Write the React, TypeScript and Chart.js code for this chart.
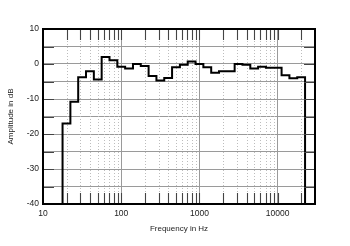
import React, { useEffect, useRef } from 'react';
import { Chart, registerables } from 'chart.js';

Chart.register(...registerables);

// 1/3-octave band edges (Hz), 20 Hz .. 20 kHz bands
const bandEdgesHz = [
  17.78, 22.39, 28.18, 35.48, 44.67, 56.23, 70.79, 89.13, 112.2, 141.3, 177.8,
  223.9, 281.8, 354.8, 446.7, 562.3, 707.9, 891.3, 1122, 1413, 1778, 2239, 2818,
  3548, 4467, 5623, 7079, 8913, 11220, 14125, 17783, 22387,
];
// band centres (for reference)
const bandCentersHz = [
  20, 25, 31.5, 40, 50, 63, 80, 100, 125, 160, 200, 250, 315, 400, 500, 630, 800,
  1000, 1250, 1600, 2000, 2500, 3150, 4000, 5000, 6300, 8000, 10000, 12500, 16000, 20000,
];
// level per band (dB)
const bandLevelsDb = [
  -17, -10.8, -3.8, -2.1, -4.4, 2.0, 1.1, -0.8, -1.3, 0, -0.6, -3.4, -4.7, -4.0,
  -0.9, -0.2, 0.7, 0, -0.9, -2.5, -2.1, -2.1, 0, -0.2, -1.3, -0.8, -1.1, -1.1,
  -3.2, -4.1, -3.8,
];
const floorDb = -40;

const xMin = 10;
const xMax = 30000;
const yMin = -40;
const yMax = 10;
const decadeTicks = [10, 100, 1000, 10000];
const minorMultipliers = [2, 3, 4, 5, 6, 7, 8, 9];
const yInnerTicks = [-35, -30, -25, -20, -15, -10, -5, 0, 5];

const FONT = 'Liberation Sans, Arial, Helvetica, sans-serif';

const framePlugin = {
  id: 'framePlugin',
  beforeDatasetsDraw(chart: any) {
    const { ctx, chartArea, scales } = chart;
    const xs = scales.x;
    ctx.save();
    ctx.strokeStyle = '#bdbdbd';
    ctx.lineWidth = 1;
    ctx.setLineDash([1, 2]);
    for (const d of decadeTicks) {
      for (const m of minorMultipliers) {
        const v = d * m;
        if (v >= xMax) continue;
        const px = Math.round(xs.getPixelForValue(v)) + 0.5;
        ctx.beginPath();
        ctx.moveTo(px, chartArea.top);
        ctx.lineTo(px, chartArea.bottom);
        ctx.stroke();
      }
    }
    ctx.restore();
  },
  afterDatasetsDraw(chart: any) {
    const { ctx, chartArea, scales } = chart;
    const xs = scales.x;
    const ys = scales.y;
    const len = 11;
    ctx.save();
    ctx.strokeStyle = '#444';
    ctx.lineWidth = 1.1;
    ctx.setLineDash([]);
    for (const d of decadeTicks) {
      for (const m of [1, ...minorMultipliers]) {
        const v = d * m;
        if (v <= xMin || v >= xMax) continue;
        const px = Math.round(xs.getPixelForValue(v)) + 0.5;
        ctx.beginPath();
        ctx.moveTo(px, chartArea.top);
        ctx.lineTo(px, chartArea.top + len);
        ctx.moveTo(px, chartArea.bottom);
        ctx.lineTo(px, chartArea.bottom - len);
        ctx.stroke();
      }
    }
    for (const v of yInnerTicks) {
      const py = Math.round(ys.getPixelForValue(v)) + 0.5;
      ctx.beginPath();
      ctx.moveTo(chartArea.left, py);
      ctx.lineTo(chartArea.left + len, py);
      ctx.moveTo(chartArea.right, py);
      ctx.lineTo(chartArea.right - len, py);
      ctx.stroke();
    }
    ctx.strokeStyle = '#000';
    ctx.lineWidth = 2;
    ctx.strokeRect(chartArea.left, chartArea.top, chartArea.right - chartArea.left, chartArea.bottom - chartArea.top);
    ctx.restore();
  },
};

export default function App() {
  const canvasRef = useRef<HTMLCanvasElement | null>(null);

  useEffect(() => {
    if (!canvasRef.current) return;
    const points: { x: number; y: number }[] = [{ x: bandEdgesHz[0], y: floorDb }];
    bandLevelsDb.forEach((v, i) => points.push({ x: bandEdgesHz[i], y: v }));
    points.push({ x: bandEdgesHz[bandEdgesHz.length - 1], y: floorDb });

    const chart = new Chart(canvasRef.current, {
      type: 'line',
      data: {
        datasets: [
          {
            label: 'Response',
            data: points,
            borderColor: '#000',
            borderWidth: 2,
            pointRadius: 0,
            stepped: 'before',
            fill: false,
            tension: 0,
            borderJoinStyle: 'miter',
          } as any,
        ],
      },
      options: {
        responsive: false,
        animation: false,
        parsing: false,
        layout: { padding: { top: 29, right: 35, left: 0, bottom: 0 } },
        plugins: {
          legend: { display: false },
          tooltip: { enabled: false },
        },
        scales: {
          x: {
            type: 'logarithmic',
            min: xMin,
            max: xMax,
            afterBuildTicks: (scale: any) => {
              scale.ticks = decadeTicks.map((v) => ({ value: v }));
            },
            afterFit: (scale: any) => {
              scale.height = 42;
            },
            grid: { color: '#9a9a9a', lineWidth: 1, drawTicks: false },
            border: { display: false },
            ticks: {
              autoSkip: false,
              maxRotation: 0,
              padding: 5,
              color: '#222',
              font: { family: FONT, size: 8.5 },
              callback: (v: any) => String(v),
            },
            title: {
              display: true,
              text: 'Frequency in Hz',
              color: '#222',
              font: { family: FONT, size: 8 },
              padding: { top: 0, bottom: 12 },
            },
          },
          y: {
            type: 'linear',
            min: yMin,
            max: yMax,
            afterFit: (scale: any) => {
              scale.width = 43;
            },
            grid: { color: '#9a9a9a', lineWidth: 1, drawTicks: false },
            border: { display: false },
            ticks: {
              stepSize: 5,
              padding: 4,
              color: '#222',
              font: { family: FONT, size: 8.5 },
              callback: (v: any) => (Number(v) % 10 === 0 ? String(v) : ''),
            },
            title: {
              display: true,
              text: 'Amplitude in dB',
              color: '#222',
              font: { family: FONT, size: 8 },
              padding: { top: 6, bottom: 0 },
            },
          },
        },
      },
      plugins: [framePlugin],
    });
    return () => chart.destroy();
  }, []);

  return (
    <div style={{ position: 'fixed', left: 0, top: 0, width: 350, height: 246, background: '#fff' }}>
      <canvas ref={canvasRef} width={350} height={246} />
    </div>
  );
}
